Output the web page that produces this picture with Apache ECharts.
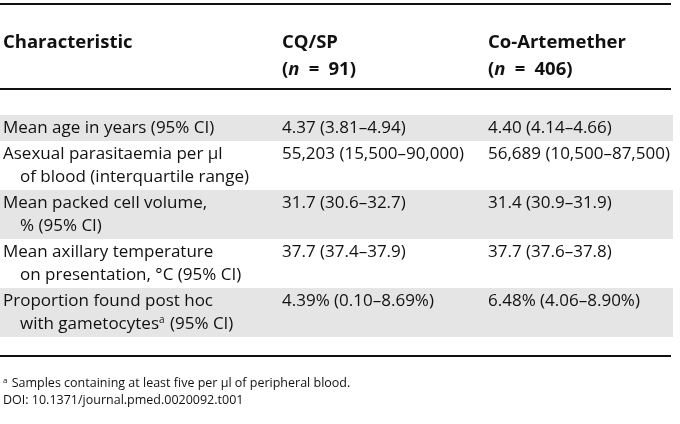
<!DOCTYPE html>
<html>
<head>
<meta charset="utf-8">
<script src="https://cdn.jsdelivr.net/npm/echarts@6/dist/echarts.min.js"></script>
<style>
  html, body { margin: 0; padding: 0; background: #fff; }
  #chart { width: 680px; height: 424px; }
</style>
</head>
<body>
<div id="chart"></div>
<script>
// --- table content ---
const columnTitles = ['Characteristic', 'CQ/SP', 'Co-Artemether'];
const groupSizes = [null, '91', '406'];
// each characteristic may wrap onto a second, indented line; ^a marks a footnote
const characteristics = [
  ['Mean age in years (95% CI)'],
  ['Asexual parasitaemia per µl', 'of blood (interquartile range)'],
  ['Mean packed cell volume,', '% (95% CI)'],
  ['Mean axillary temperature', 'on presentation, °C (95% CI)'],
  ['Proportion found post hoc', 'with gametocytes^a (95% CI)']
];
const cqspValues = [
  '4.37 (3.81–4.94)',
  '55,203 (15,500–90,000)',
  '31.7 (30.6–32.7)',
  '37.7 (37.4–37.9)',
  '4.39% (0.10–8.69%)'
];
const coArtemetherValues = [
  '4.40 (4.14–4.66)',
  '56,689 (10,500–87,500)',
  '31.4 (30.9–31.9)',
  '37.7 (37.6–37.8)',
  '6.48% (4.06–8.90%)'
];
const footnotes = [
  '^a Samples containing at least five per µl of peripheral blood.',
  'DOI: 10.1371/journal.pmed.0020092.t001'
];

// --- layout (axis units = px inside the grid) ---
const FONT = 'Open Sans';
const TEXT = '#111';
const STRIPE = '#e5e5e5';
const BODY_SIZE = 17;
const HEAD_SIZE = 18.5;
const FOOT_SIZE = 12.5;
const TABLE_W = 672;
const COL_X = [3, 282, 488];
const INDENT = 17;
const HEAD_Y = [39, 66];
const HEAD_RULE = 85;
const BODY_TOP = 111;
const LINE_H = 23;
const ROW_PAD = 3;
const FOOT_Y = [379, 396];

// row tops from the number of lines each row needs
const rowTops = [];
let acc = BODY_TOP;
characteristics.forEach(lines => { rowTops.push(acc); acc += lines.length * LINE_H + ROW_PAD; });
const BOTTOM_RULE = acc + 19;

const sup = s => s.replace(/\^(\w)/g, '{sup|$1}');

const baseStyle = (size, weight) => ({
  fill: TEXT, fontFamily: FONT, fontSize: size, fontWeight: weight || 'normal',
  align: 'left', verticalAlign: 'middle',
  rich: {
    sup: { fontFamily: FONT, fontSize: Math.round(size * 0.6), fill: TEXT, verticalAlign: 'top', padding: [0, 1, 0, 0] },
    i: { fontFamily: FONT, fontSize: size, fontWeight: 'bold', fontStyle: 'italic', fill: TEXT }
  }
});

function textAt(api, x, y, str, size, weight) {
  const p = api.coord([x, y]);
  return { type: 'text', x: p[0], y: p[1], style: Object.assign(baseStyle(size, weight), { text: str }) };
}

function ruleAt(api, y) {
  const a = api.coord([0, y]);
  const b = api.coord([TABLE_W - 1, y]);
  return { type: 'rect', shape: { x: a[0], y: a[1] - 1, width: b[0] - a[0], height: 2 }, style: { fill: TEXT } };
}

function renderRow(params, api) {
  const i = api.value(0);
  const top = rowTops[i];
  const lines = characteristics[i];
  const h = lines.length * LINE_H + ROW_PAD;
  const children = [];
  if (i % 2 === 0) {
    const a = api.coord([0, top]);
    const b = api.coord([TABLE_W + 1, top + h]);
    children.push({ type: 'rect', shape: { x: a[0], y: a[1], width: b[0] - a[0], height: b[1] - a[1] }, style: { fill: STRIPE } });
  }
  lines.forEach((ln, k) => {
    const y = top + ROW_PAD / 2 + LINE_H * (k + 0.5);
    children.push(textAt(api, COL_X[0] + (k ? INDENT : 0), y, sup(ln), BODY_SIZE));
  });
  const y0 = top + ROW_PAD / 2 + LINE_H / 2;
  children.push(textAt(api, COL_X[1], y0, cqspValues[i], BODY_SIZE));
  children.push(textAt(api, COL_X[2], y0, coArtemetherValues[i], BODY_SIZE));
  return { type: 'group', children: children };
}

function renderFrame(params, api) {
  const children = [ruleAt(api, 0), ruleAt(api, HEAD_RULE), ruleAt(api, BOTTOM_RULE)];
  columnTitles.forEach((t, c) => {
    children.push(textAt(api, COL_X[c], HEAD_Y[0], t, HEAD_SIZE, 'bold'));
    if (groupSizes[c]) {
      children.push(textAt(api, COL_X[c], HEAD_Y[1], '({i|n}\u2002=\u2002' + groupSizes[c] + ')', HEAD_SIZE, 'bold'));
    }
  });
  footnotes.forEach((f, k) => children.push(textAt(api, COL_X[0], FOOT_Y[k], sup(f), FOOT_SIZE)));
  return { type: 'group', children: children };
}

const chart = echarts.init(document.getElementById('chart'), null, { renderer: 'canvas' });
chart.setOption({
  animation: false,
  grid: { left: 0, top: 4, width: 680, height: 420 },
  xAxis: { type: 'value', min: 0, max: 680, show: false },
  yAxis: { type: 'value', min: 0, max: 420, inverse: true, show: false },
  series: [
    {
      type: 'custom',
      renderItem: renderRow,
      data: characteristics.map((_, i) => [i]),
      encode: { x: -1, y: -1 },
      silent: true
    },
    {
      type: 'custom',
      renderItem: renderFrame,
      data: [[0]],
      encode: { x: -1, y: -1 },
      silent: true,
      z: 3
    }
  ]
});
</script>
</body>
</html>
